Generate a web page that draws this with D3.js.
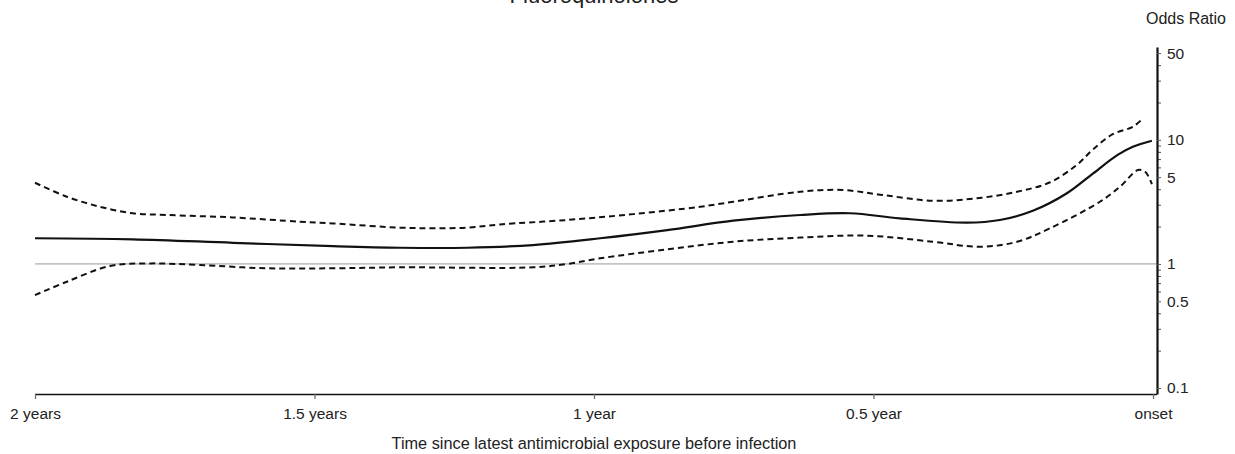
<!DOCTYPE html>
<html>
<head>
<meta charset="utf-8">
<script src="https://cdn.jsdelivr.net/npm/d3@7"></script>
<style>
  html, body { margin: 0; padding: 0; background: #fff; }
  svg { display: block; font-family: "Liberation Sans", Arial, Helvetica, sans-serif; }
</style>
</head>
<body>
<svg id="chart" width="1235" height="454"></svg>
<script>
// ---- data (years before infection onset, odds ratio) ----
const estYears = [2.0, 1.825, 1.646, 1.467, 1.347, 1.227, 1.109, 0.989, 0.869, 0.751, 0.631, 0.542, 0.453, 0.333, 0.274, 0.215, 0.154, 0.107, 0.064, 0.036, 0.002];
const estOR    = [1.61, 1.58, 1.48, 1.39, 1.35, 1.35, 1.42, 1.61, 1.875, 2.23, 2.48, 2.56, 2.33, 2.15, 2.26, 2.68, 3.71, 5.37, 7.54, 8.80, 9.84];

const upperYears = [2.0, 1.943, 1.884, 1.825, 1.764, 1.646, 1.526, 1.467, 1.347, 1.288, 1.227, 1.168, 1.048, 0.930, 0.810, 0.751, 0.631, 0.555, 0.483, 0.394, 0.315, 0.243, 0.184, 0.136, 0.107, 0.072, 0.036, 0.020];
const upperOR    = [4.51, 3.48, 2.89, 2.56, 2.48, 2.37, 2.19, 2.12, 1.96, 1.94, 1.96, 2.08, 2.26, 2.52, 2.89, 3.17, 3.82, 3.94, 3.59, 3.23, 3.38, 3.82, 4.55, 6.3, 8.4, 11.1, 12.75, 14.6];

const lowerYears = [2.0, 1.943, 1.866, 1.794, 1.705, 1.585, 1.467, 1.347, 1.109, 1.048, 0.989, 0.869, 0.751, 0.631, 0.512, 0.394, 0.310, 0.243, 0.184, 0.095, 0.059, 0.027, 0.014, 0.002];
const lowerOR    = [0.561, 0.719, 0.962, 1.01, 0.98, 0.922, 0.922, 0.939, 0.939, 1.0, 1.11, 1.31, 1.51, 1.63, 1.69, 1.51, 1.376, 1.51, 1.94, 3.17, 4.19, 5.71, 5.53, 4.40];

const xTickValues = [2, 1.5, 1, 0.5, 0];
const xTickLabels = ["2 years", "1.5 years", "1 year", "0.5 year", "onset"];
const yMajorTicks = [0.1, 0.5, 1, 5, 10, 50];
const yMinorTicks = [0.2, 0.3, 0.4, 0.6, 0.7, 0.8, 0.9, 2, 3, 4, 6, 7, 8, 9, 20, 30, 40];

const titleText = "Fluoroquinolones";
const yTitle = "Odds Ratio";
const xTitle = "Time since latest antimicrobial exposure before infection";

// ---- layout ----
const svg = d3.select("#chart");
const x = d3.scaleLinear().domain([2, 0]).range([35, 1153]);
const y = d3.scaleLog().domain([0.0895, 56]).range([394, 47]);
const axisX = 1157;
const textColor = "#222";
const fontFam = "'Liberation Sans', Arial, sans-serif";

// title (cut at top, as in the reference)
svg.append("text")
  .attr("x", 594).attr("y", 3)
  .attr("text-anchor", "middle")
  .attr("font-size", 22).attr("fill", textColor)
  .text(titleText);

// reference line at OR = 1
svg.append("line")
  .attr("x1", x(2)).attr("x2", axisX)
  .attr("y1", y(1)).attr("y2", y(1))
  .attr("stroke", "#999").attr("stroke-width", 1);

// x axis
const xAxis = d3.axisBottom(x)
  .tickValues(xTickValues)
  .tickFormat((d, i) => xTickLabels[i])
  .tickSize(5).tickSizeOuter(0).tickPadding(9);
const gx = svg.append("g").attr("transform", `translate(0,${y.range()[0]})`).call(xAxis);
gx.select(".domain").attr("d", `M${x(2)},0.5H${axisX}`).attr("stroke", "#111").attr("stroke-width", 1.6);
gx.selectAll(".tick line").attr("stroke", "#666").attr("stroke-width", 1.2);
gx.selectAll(".tick text").attr("font-size", 15.5).attr("fill", textColor).attr("font-family", fontFam);

// y axis (right)
const gyMinor = svg.append("g").attr("transform", `translate(${axisX},0)`)
  .call(d3.axisRight(y).tickValues(yMinorTicks).tickFormat("").tickSize(4).tickSizeOuter(0));
gyMinor.select(".domain").remove();
gyMinor.selectAll(".tick line").attr("stroke", "#555").attr("stroke-width", 1);

const gy = svg.append("g").attr("transform", `translate(${axisX},0)`)
  .call(d3.axisRight(y).tickValues(yMajorTicks).tickFormat(d3.format("")).tickSize(4).tickSizeOuter(0).tickPadding(6));
gy.select(".domain").attr("stroke", "#111").attr("stroke-width", 2.2);
gy.selectAll(".tick line").attr("stroke", "#555").attr("stroke-width", 1);
gy.selectAll(".tick text").attr("font-size", 15.5).attr("fill", textColor).attr("font-family", fontFam);

// axis titles
svg.append("text")
  .attr("x", 1186).attr("y", 24)
  .attr("text-anchor", "middle")
  .attr("font-size", 16).attr("fill", textColor)
  .text(yTitle);

svg.append("text")
  .attr("x", 594).attr("y", 449)
  .attr("text-anchor", "middle")
  .attr("font-size", 16.3).attr("fill", textColor)
  .text(xTitle);

// curves
const line = d3.line()
  .x(d => x(d[0]))
  .y(d => y(d[1]))
  .curve(d3.curveCatmullRom.alpha(0.5));

function draw(xs, ys, dashed) {
  const pts = xs.map((v, i) => [v, ys[i]]).sort((a, b) => x(a[0]) - x(b[0]));
  svg.append("path")
    .attr("d", line(pts))
    .attr("fill", "none")
    .attr("stroke", "#111")
    .attr("stroke-width", dashed ? 2 : 2.2)
    .attr("stroke-dasharray", dashed ? "6,4" : null);
}

draw(upperYears, upperOR, true);
draw(lowerYears, lowerOR, true);
draw(estYears, estOR, false);
</script>
</body>
</html>
